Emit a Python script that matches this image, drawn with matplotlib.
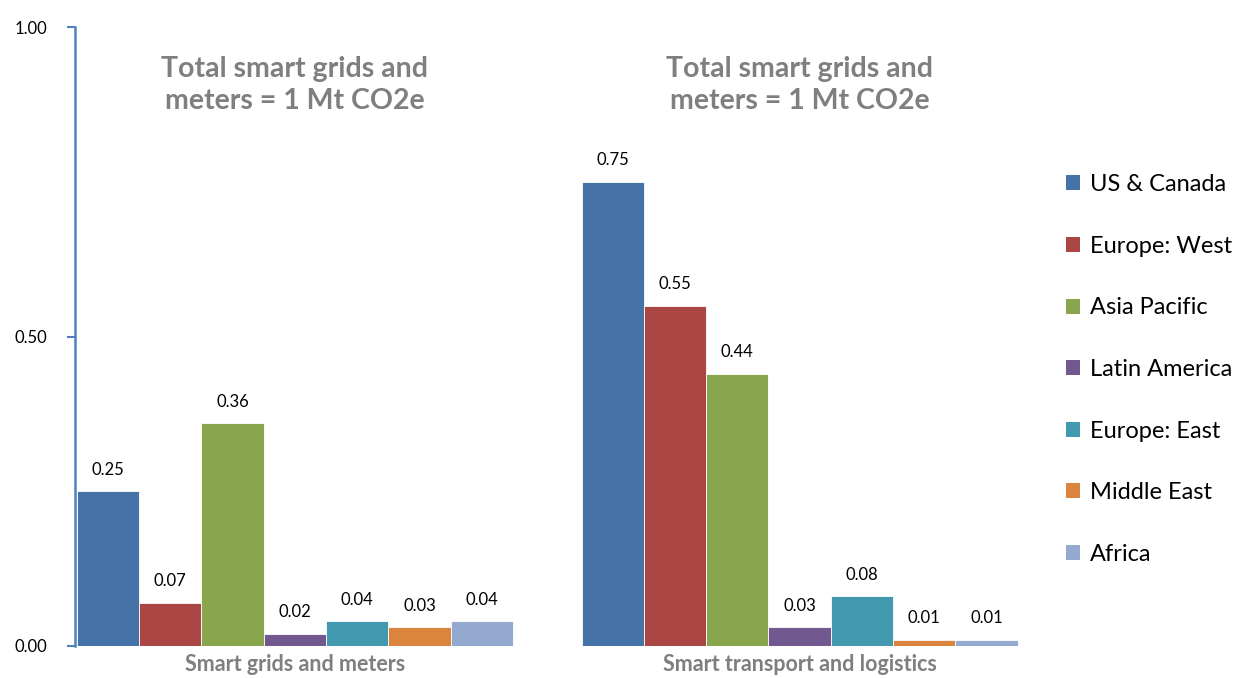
import numpy as np
import matplotlib
matplotlib.use('Agg')
import matplotlib.pyplot as plt
from matplotlib.patches import Patch

plt.rcParams['font.family'] = ['Lato', 'DejaVu Sans']

# Emissions by region for each ICT solution (Mt CO2e)
categories = ['Smart grids and meters', 'Smart transport and logistics']
regions = ['US & Canada', 'Europe: West', 'Asia Pacific', 'Latin America',
           'Europe: East', 'Middle East', 'Africa']
grids_values = [0.25, 0.07, 0.36, 0.02, 0.04, 0.03, 0.04]
transport_values = [0.75, 0.55, 0.44, 0.03, 0.08, 0.01, 0.01]
panel_titles = ['Total smart grids and\nmeters = 1 Mt CO2e',
                'Total smart grids and\nmeters = 1 Mt CO2e']
yticks = [0.0, 0.5, 1.0]

colors = ['#4572A7', '#AA4643', '#89A54E', '#71588F',
          '#4198AF', '#DB843D', '#93A9CF']
gray = '#7f7f7f'

fig = plt.figure(figsize=(12.38, 6.78), dpi=100)
ax = fig.add_axes([75 / 1238, 32 / 678, (1022 - 75) / 1238, (646 - 27) / 678])

group_centers = [3.0, 11.1]
n = len(regions)
for gi, vals in enumerate([grids_values, transport_values]):
    xs = group_centers[gi] + np.arange(n) - (n - 1) / 2
    ax.bar(xs, vals, width=1.0, color=colors, edgecolor='white', linewidth=0.6)
    for x, v in zip(xs, vals):
        ax.text(x, v + 0.022, '{:.2f}'.format(v), ha='center', va='bottom',
                fontsize=12, color='black')
    ax.text(group_centers[gi], 0.953, panel_titles[gi], ha='center', va='top',
            fontsize=20.5, fontweight='bold', color=gray, linespacing=1.3)

ax.set_xlim(-0.53, 14.67)
ax.set_ylim(0, 1.0)
ax.set_yticks(yticks)
ax.set_yticklabels(['{:.2f}'.format(t) for t in yticks], fontsize=12)
ax.set_xticks(group_centers)
ax.set_xticklabels(categories, fontsize=15.5, fontweight='bold', color=gray)
ax.tick_params(axis='x', length=0, pad=6)
ax.tick_params(axis='y', length=6, width=1.5, color='#4F81BD', pad=14)

for side in ['top', 'right', 'bottom']:
    ax.spines[side].set_visible(False)
ax.spines['left'].set_color('#4F81BD')
ax.spines['left'].set_linewidth(1.8)

handles = [Patch(facecolor=c, label=r) for c, r in zip(colors, regions)]
fig.legend(handles=handles, loc='upper left', bbox_to_anchor=(1045 / 1238, 1 - 153 / 678),
           frameon=False, fontsize=17, handlelength=0.6, handleheight=0.6,
           handletextpad=0.4, labelspacing=1.72)

fig.savefig('out.png', dpi=100)
